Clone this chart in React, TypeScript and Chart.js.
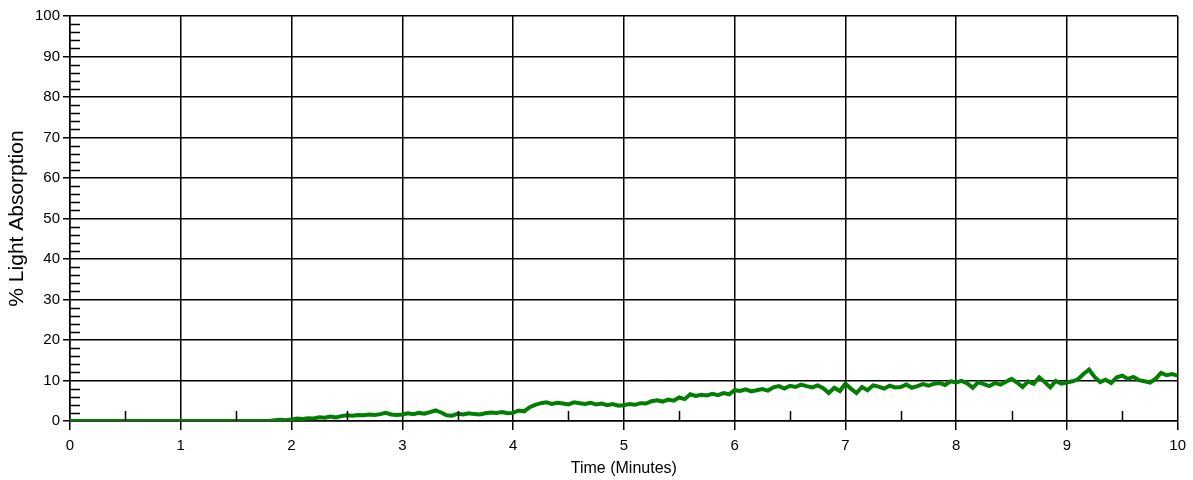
import React, { useEffect, useRef } from "react";
import { Chart, registerables } from "chart.js";

Chart.register(...registerables);

// Sample interval of the recording, minutes
const SAMPLE_STEP = 0.05;

// % light absorption, one value per 0.05 min from 0.00 to 10.00
const absorption: number[] = [
  // 0.00 - 1.80
  0, 0, 0, 0, 0, 0, 0, 0, 0, 0, 0, 0, 0, 0, 0, 0, 0, 0, 0, 0,
  0, 0, 0, 0, 0, 0, 0, 0, 0, 0, 0, 0, 0, 0, 0, 0, 0,
  // 1.85 - 2.95
  0.2, 0.3, 0.2, 0.4, 0.6, 0.5, 0.7, 0.6, 0.9, 0.8, 1.1, 0.9, 1.2, 1.4, 1.3, 1.5, 1.4, 1.6, 1.5, 1.7, 2.0, 1.6, 1.5,
  // 3.00 - 3.95
  1.6, 1.9, 1.7, 2.0, 1.8, 2.2, 2.6, 2.1, 1.4, 1.3, 1.8, 1.6, 1.9, 1.7, 1.6, 1.9, 2.1, 2.0, 2.2, 1.9,
  // 4.00 - 4.95
  2.0, 2.6, 2.4, 3.4, 4.0, 4.4, 4.6, 4.2, 4.5, 4.3, 4.1, 4.6, 4.4, 4.2, 4.5, 4.1, 4.3, 3.9, 4.2, 3.8,
  // 5.00 - 5.95
  3.9, 4.2, 4.0, 4.4, 4.3, 4.9, 5.1, 4.8, 5.3, 5.0, 5.8, 5.4, 6.6, 6.2, 6.5, 6.3, 6.7, 6.4, 6.9, 6.6,
  // 6.00 - 6.95
  7.6, 7.4, 7.8, 7.3, 7.6, 7.9, 7.5, 8.3, 8.6, 8.0, 8.7, 8.4, 9.0, 8.6, 8.3, 8.8, 8.1, 6.9, 8.2, 7.4,
  // 7.00 - 7.95
  9.2, 8.0, 6.9, 8.4, 7.6, 8.8, 8.5, 8.0, 8.7, 8.3, 8.4, 9.0, 8.2, 8.6, 9.1, 8.7, 9.2, 9.4, 8.9, 9.8,
  // 8.00 - 8.95
  9.5, 9.9, 9.3, 8.2, 9.6, 9.1, 8.6, 9.4, 9.0, 9.7, 10.4, 9.5, 8.4, 9.8, 9.2, 10.8, 9.6, 8.3, 9.9, 9.2,
  // 9.00 - 10.00
  9.5, 9.8, 10.3, 11.6, 12.7, 10.9, 9.6, 10.2, 9.4, 10.8, 11.2, 10.4, 10.9, 10.1, 9.8, 9.5, 10.4, 11.9, 11.3, 11.6, 11.2,
];

const X_MIN = 0;
const X_MAX = 10;
const X_STEP = 1;
const X_MINOR = [0.5, 1.5, 2.5, 3.5, 4.5, 5.5, 6.5, 7.5, 8.5, 9.5];
const Y_MIN = 0;
const Y_MAX = 100;
const Y_STEP = 10;
const Y_MINOR = [
  2, 4, 6, 8, 12, 14, 16, 18, 22, 24, 26, 28, 32, 34, 36, 38, 42, 44, 46, 48,
  52, 54, 56, 58, 62, 64, 66, 68, 72, 74, 76, 78, 82, 84, 86, 88, 92, 94, 96, 98,
];
const X_TITLE = "Time (Minutes)";
const Y_TITLE = "% Light Absorption";

const FONT = "'Liberation Sans', Arial, sans-serif";

const minorTicks = {
  id: "minorTicks",
  afterDatasetsDraw(chart: any) {
    const { ctx, chartArea, scales } = chart;
    ctx.save();
    ctx.strokeStyle = "#000";
    ctx.lineWidth = 1.5;
    ctx.beginPath();
    for (const v of Y_MINOR) {
      const y = Math.round(scales.y.getPixelForValue(v)) + 0.5;
      ctx.moveTo(chartArea.left, y);
      ctx.lineTo(chartArea.left + 10, y);
    }
    for (const v of X_MINOR) {
      const x = Math.round(scales.x.getPixelForValue(v)) + 0.5;
      ctx.moveTo(x, chartArea.bottom);
      ctx.lineTo(x, chartArea.bottom - 10);
    }
    ctx.stroke();
    ctx.restore();
  },
};

export default function App() {
  const ref = useRef<HTMLCanvasElement | null>(null);

  useEffect(() => {
    document.body.style.margin = "0";
    if (!ref.current) return;
    const points = absorption.map((v, i) => ({ x: +(i * SAMPLE_STEP).toFixed(2), y: v }));
    const chart = new Chart(ref.current, {
      type: "line",
      data: {
        datasets: [
          {
            data: points,
            borderColor: "#007f00",
            borderWidth: 4,
            pointRadius: 0,
            tension: 0,
            fill: false,
          },
        ],
      },
      options: {
        animation: false,
        responsive: false,
        maintainAspectRatio: false,
        layout: { padding: { top: 16, right: 14, left: 0, bottom: 0 } },
        plugins: { legend: { display: false }, tooltip: { enabled: false } },
        scales: {
          x: {
            type: "linear",
            min: X_MIN,
            max: X_MAX,
            afterFit: (s: any) => {
              s.height = 59;
            },
            ticks: {
              stepSize: X_STEP,
              color: "#000",
              font: { family: FONT, size: 15 },
              padding: 7,
              maxRotation: 0,
            },
            grid: { color: "#000", lineWidth: 1.5, tickLength: 9 },
            border: { color: "#000", width: 1.5 },
            title: {
              display: true,
              text: X_TITLE,
              color: "#000",
              font: { family: FONT, size: 16 },
              padding: { top: 0, bottom: 2 },
            },
          },
          y: {
            min: Y_MIN,
            max: Y_MAX,
            afterFit: (s: any) => {
              s.width = 70;
            },
            ticks: {
              stepSize: Y_STEP,
              color: "#000",
              font: { family: FONT, size: 15 },
              padding: 3,
            },
            grid: { color: "#000", lineWidth: 1.5, tickLength: 7 },
            border: { color: "#000", width: 1.5 },
            title: {
              display: true,
              text: Y_TITLE,
              color: "#000",
              font: { family: FONT, size: 21 },
              padding: { top: 5, bottom: 0 },
            },
          },
        },
      },
      plugins: [minorTicks],
    });
    return () => chart.destroy();
  }, []);

  return (
    <div style={{ width: 1193, height: 480, overflow: "hidden" }}>
      <canvas ref={ref} width={1193} height={480} style={{ display: "block", width: 1193, height: 480 }} />
    </div>
  );
}
